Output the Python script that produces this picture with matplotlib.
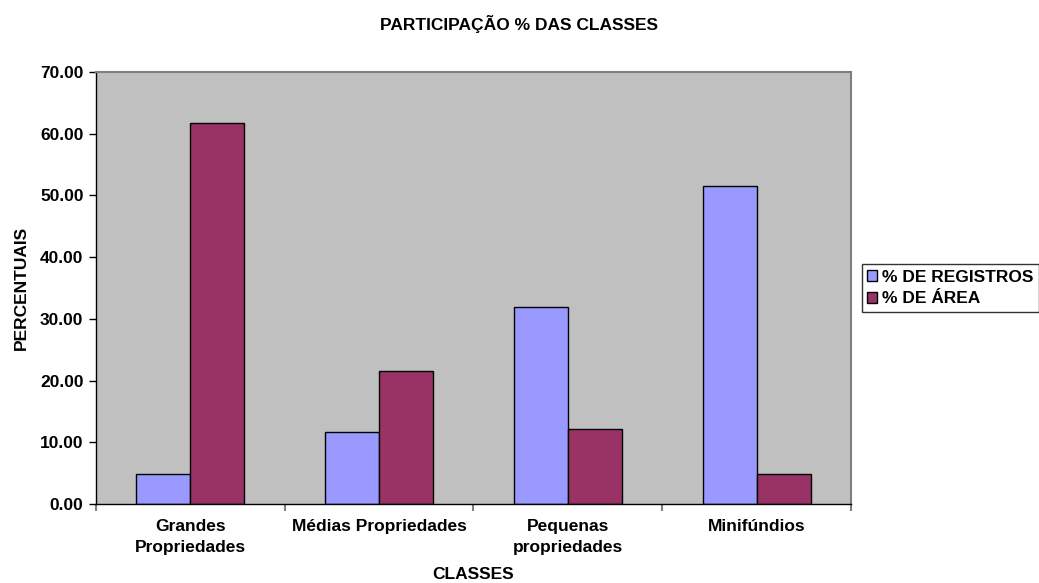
import matplotlib
matplotlib.use('Agg')
import matplotlib.pyplot as plt
import numpy as np

plt.rcParams['font.family'] = ['Liberation Sans', 'DejaVu Sans']
plt.rcParams['font.weight'] = 'bold'

classes = ['Grandes\nPropriedades', 'Médias Propriedades', 'Pequenas\npropriedades', 'Minifúndios']
registros = [4.86, 11.67, 31.90, 51.60]
area = [61.70, 21.55, 12.10, 4.86]
series_names = ['% DE REGISTROS', '% DE ÁREA']

fs = 12.5

fig = plt.figure(figsize=(10.39, 5.83), dpi=100)
ax = fig.add_axes([0.0924, 0.1355, 0.7266, 0.741])
ax.set_facecolor('#C0C0C0')

x = np.arange(len(classes))
w = 0.286
ax.bar(x - w/2, registros, w, color='#9999FF', edgecolor='black', linewidth=1.0, label=series_names[0])
ax.bar(x + w/2, area, w, color='#993366', edgecolor='black', linewidth=1.0, label=series_names[1])

ax.set_xlim(-0.5, len(classes) - 0.5)
ax.set_ylim(0, 70)
ax.set_yticks(np.arange(0, 71, 10))
ax.set_yticklabels(['%.2f' % v for v in np.arange(0, 71, 10)], fontsize=fs, fontweight='bold')

ax.set_xticks(np.arange(-0.5, len(classes), 1.0))
ax.set_xticklabels([])
ax.set_xticks(x, minor=True)
ax.set_xticklabels(classes, minor=True, fontsize=fs, fontweight='bold', linespacing=1.45)
ax.tick_params(axis='x', which='major', length=5, color='#808080', width=1.5)
ax.tick_params(axis='x', which='minor', length=0, pad=11)
ax.tick_params(axis='y', length=5, width=1, pad=4)

for s in ['left', 'bottom']:
    ax.spines[s].set_color('black')
    ax.spines[s].set_linewidth(1.0)
for s in ['top', 'right']:
    ax.spines[s].set_color('#808080')
    ax.spines[s].set_linewidth(1.5)

ax.set_xlabel('CLASSES', fontsize=fs, fontweight='bold', labelpad=9)
ax.set_ylabel('PERCENTUAIS', fontsize=fs, fontweight='bold', labelpad=8)
fig.suptitle('PARTICIPAÇÃO % DAS CLASSES', fontsize=fs, fontweight='bold', y=0.975)

leg = ax.legend(loc='center left', bbox_to_anchor=(1.014, 0.5), fontsize=fs,
                frameon=True, fancybox=False, edgecolor='black',
                handlelength=0.6, handleheight=0.6, handletextpad=0.3,
                borderpad=0.3, labelspacing=0.4, borderaxespad=0)
leg.get_frame().set_linewidth(1.0)
for t in leg.get_texts():
    t.set_fontweight('bold')

fig.savefig('out.png', dpi=100)
